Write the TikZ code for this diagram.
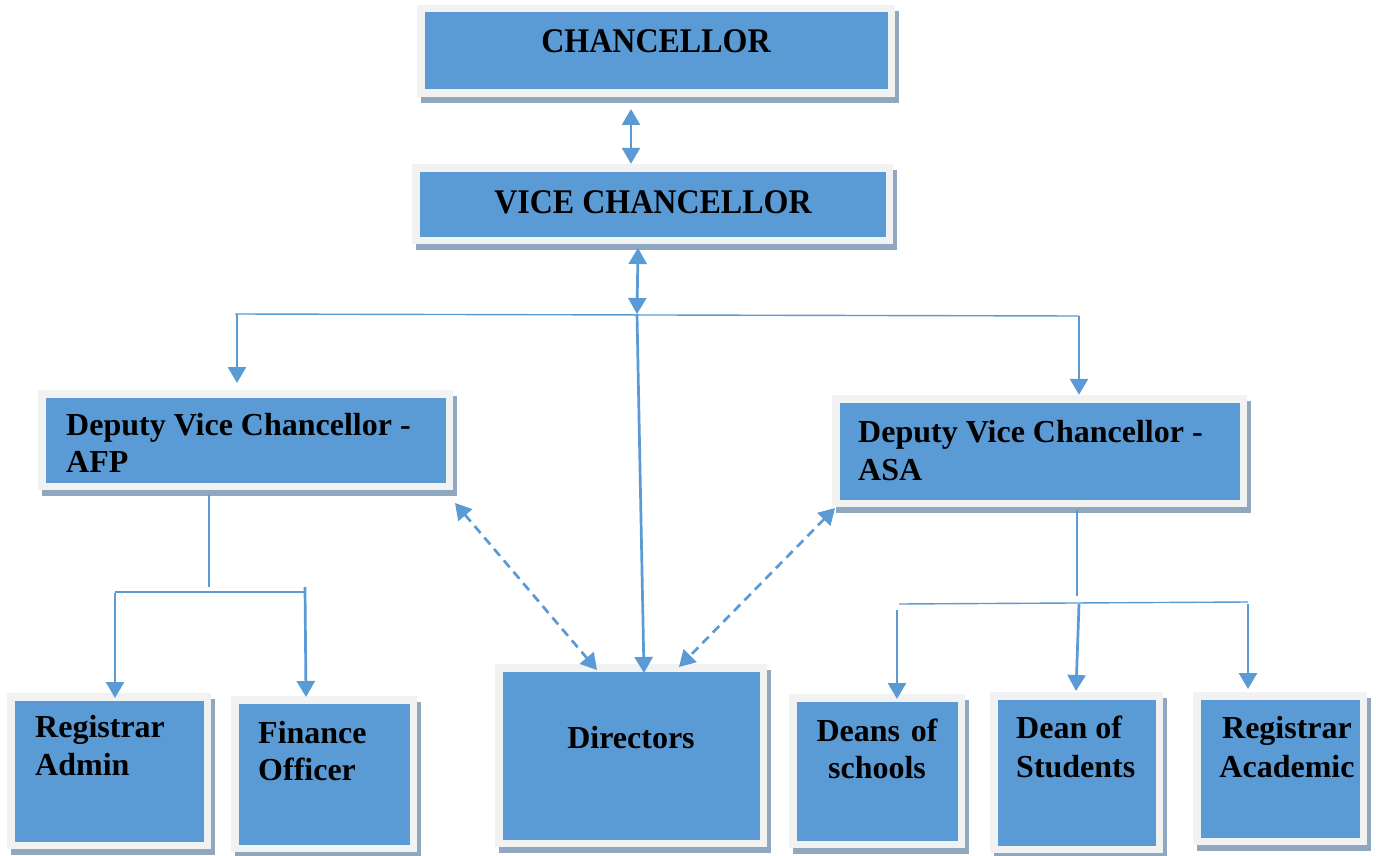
\documentclass[tikz,border=0pt]{standalone}
\usepackage{fontspec}
\setmainfont{Liberation Serif}
\usetikzlibrary{arrows.meta,shadows,fit,calc}
\definecolor{boxblue}{HTML}{5B9BD5}
\definecolor{framegray}{HTML}{F2F2F2}
\definecolor{shadowc}{HTML}{8FA8C0}
\definecolor{linec}{HTML}{5B9BD5}
\newcommand\nsp{\spaceskip=0pt\xspaceskip=0pt\relax}
\tikzset{
  framebox/.style={fill=framegray, draw=none, inner sep=0pt,
    general shadow={fill=shadowc, shadow xshift=4pt, shadow yshift=-6pt}},
  bluebox/.style={fill=boxblue, draw=none, inner sep=0pt},
  lbl/.style={inner sep=0pt, font=\fontsize{32}{37}\selectfont\bfseries, text=black},
  lbll/.style={lbl, text width=460pt, align=left, anchor=base west},
  lblc/.style={lbl, text width=260pt, anchor=base},
  conn/.style={draw=linec, line width=2.7pt},
  thinln/.style={draw=linec, line width=1.4pt},
  tip/.style={-{Triangle[width=18pt,length=16pt]}},
  dtip/.style={{Triangle[width=18pt,length=16pt]}-{Triangle[width=18pt,length=16pt]}},
  dashln/.style={dash pattern=on 9pt off 6pt}
}
\newcommand\orgbox[5]{%
  \node[framebox, fit={(#2,#3)(#4,#5)}] (#1) {};
  \node[bluebox, fit={($(#2,#3)+(7.5,7.5)$)($(#4,#5)+(-7.5,-7.5)$)}] (#1-in) {};}
\begin{document}
\begin{tikzpicture}[x=1pt,y=-1pt]
\fill[white] (0,0) rectangle (1376,856);
\useasboundingbox (0,0) rectangle (1376,856);
% boxes
\orgbox{chan}{417}{5}{895}{97}
\orgbox{vc}{412}{164}{893}{244}
\orgbox{afp}{38}{390}{453}{490}
\orgbox{asa}{832}{395}{1247}{507}
\orgbox{ra}{7}{693}{211}{849}
\orgbox{fo}{231}{696}{417}{852}
\orgbox{dir}{495}{664}{767}{847}
\orgbox{dos}{789}{694}{965}{848}
\orgbox{dst}{990}{692}{1163}{853}
\orgbox{rac}{1193}{692}{1367}{845}
% labels
\node[lbl, anchor=base, yscale=1.08] (chan-t) at (656,53) {CHANCELLOR};
\node[lbl, anchor=base, yscale=1.08] (vc-t) at (653,213) {VICE CHANCELLOR};
\node[lbll] (afp-t) at (66,435) {\nsp Deputy Vice Chancellor -\\AFP};
\node[lbll, font=\fontsize{32}{38}\selectfont\bfseries] (asa-t) at (858,442) {\nsp Deputy Vice Chancellor -\\ASA};
\node[lbll, font=\fontsize{32}{38}\selectfont\bfseries] (ra-t) at (35,737) {Registrar\\Admin};
\node[lbll] (fo-t) at (258,743) {Finance\\Officer};
\node[lblc] (dir-t) at (631,748) {\centering Directors\par};
\node[lblc] (dos-t) at (877,741) {\centering Deans of\\schools\par};
\node[lbll, font=\fontsize{32}{39}\selectfont\bfseries] (dst-t) at (1016,738) {\nsp Dean of\\Students};
\node[lblc, font=\fontsize{32}{39}\selectfont\bfseries] (rac-t) at (1287,738) {\centering Registrar\\Academic\par};
% coordinates
\coordinate (c1) at (631,109);
\coordinate (c2) at (638,248);
\coordinate (barm) at (637,314);
\coordinate (barl) at (235,314);
\coordinate (barr) at (1079,316);
\coordinate (afpl) at (237,314);
\coordinate (afps) at (209,495);
\coordinate (afpe) at (209,587);
\coordinate (abl) at (115,592);
\coordinate (abr) at (305,592);
\coordinate (abr0) at (305,587);
\coordinate (asas) at (1077,510);
\coordinate (asae) at (1077,596);
\coordinate (sbl) at (899,604);
\coordinate (sbr) at (1248,602);
\coordinate (sdl) at (897,610);
\coordinate (sdm) at (1079,604);
\coordinate (sdr) at (1248,604);
\coordinate (dl1) at (455,503);
\coordinate (dl2) at (597,670);
\coordinate (dr1) at (835,508);
\coordinate (dr2) at (679,667);
% connectors
\draw[conn, dtip] (c1) -- (c1 |- vc.north);
\draw[conn, dtip] (c2) -- (barm);
\draw[thinln] (barl) -- (barr);
\draw[conn, tip] (afpl) -- (237,383);
\draw[conn, tip] (barr) -- (barr |- asa.north);
\draw[conn, tip] (barm) -- (644,673);
\draw[conn, dashln, dtip] (dl1) -- (dl2);
\draw[conn, dashln, dtip] (dr1) -- (dr2);
\draw[thinln] (afps) -- (afpe);
\draw[thinln] (abl) -- (abr);
\draw[conn, tip] (115,593) -- (115,698);
\draw[conn, tip] (abr0) -- (306,697);
\draw[thinln] (asas) -- (asae);
\draw[thinln] (sbl) -- (sbr);
\draw[conn, tip] (sdl) -- (897,699);
\draw[conn, tip] (sdm) -- (1076,691);
\draw[conn, tip] (sdr) -- (1248,689);
\end{tikzpicture}
\end{document}
